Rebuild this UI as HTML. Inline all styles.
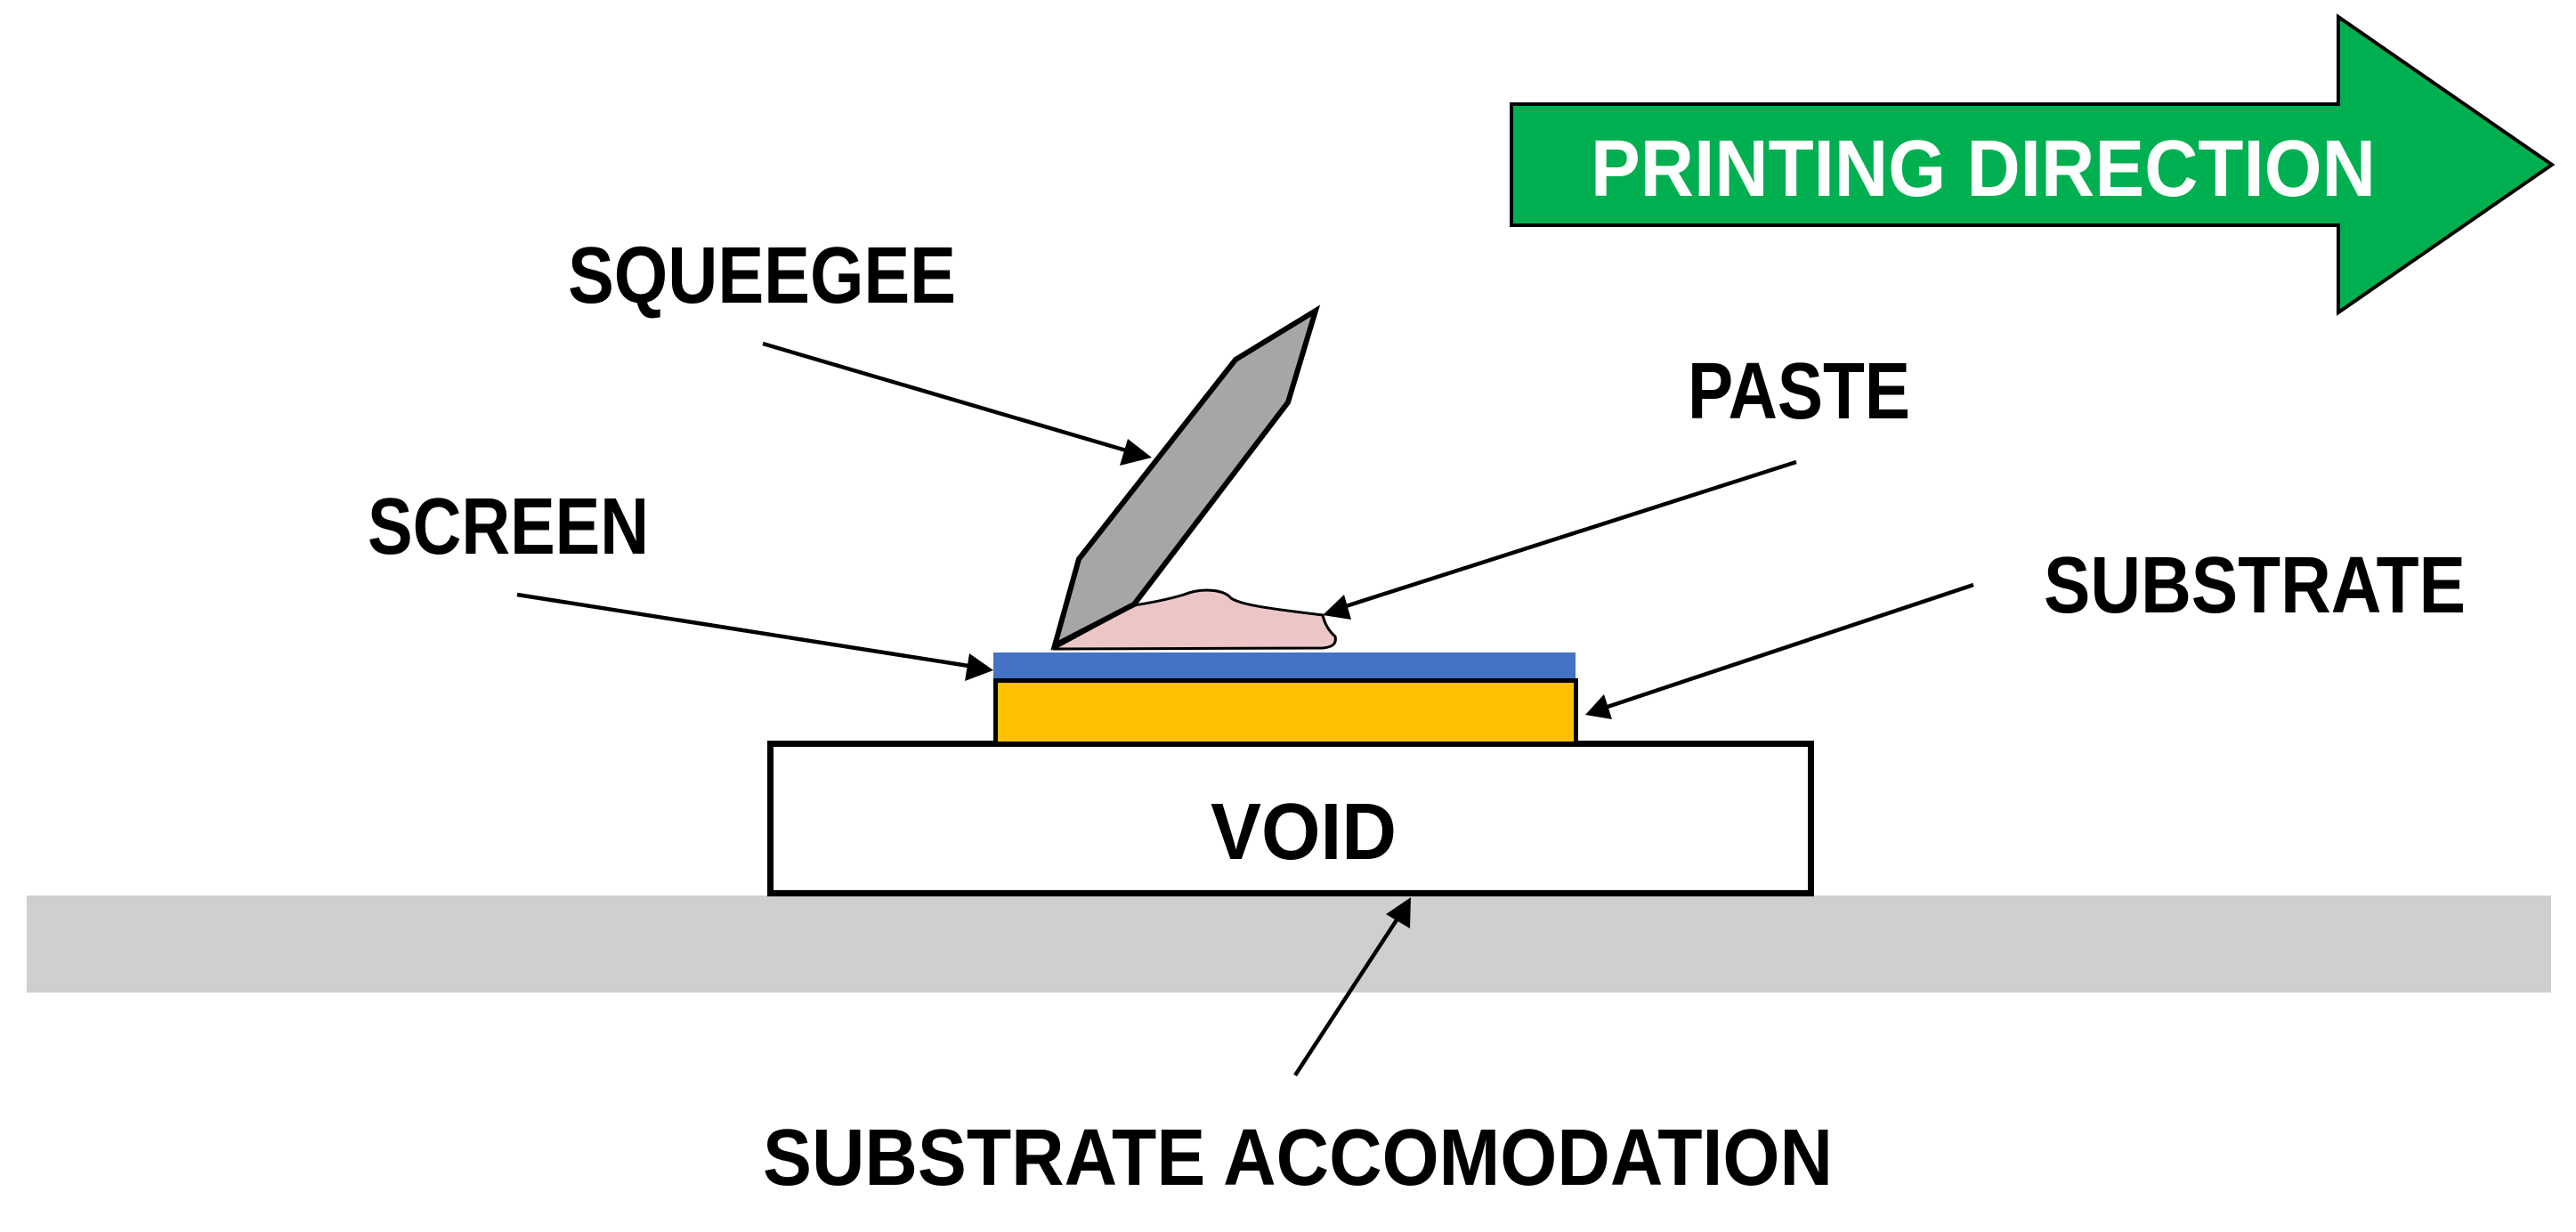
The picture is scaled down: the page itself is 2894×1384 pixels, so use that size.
<!DOCTYPE html>
<html><head><meta charset="utf-8"><style>
html,body{margin:0;padding:0;background:#fff;}
svg{display:block;}
text{font-family:"Liberation Sans",sans-serif;font-weight:bold;}
</style></head><body>
<svg width="2894" height="1384" viewBox="0 0 2894 1384" xmlns="http://www.w3.org/2000/svg">
<defs>
<marker id="ah" markerWidth="10" markerHeight="8" refX="9" refY="4" orient="auto" markerUnits="userSpaceOnUse" viewBox="0 0 10 8">
</marker>
</defs>
<!-- gray base -->
<rect x="30" y="1006" width="2836" height="109" fill="#d0cece"/>
<!-- void box -->
<rect x="865.5" y="835.5" width="1169" height="168" fill="#fff" stroke="#000" stroke-width="7"/>
<!-- yellow substrate -->
<rect x="1118.5" y="764.5" width="652" height="71" fill="#ffc000" stroke="#000" stroke-width="5"/>
<!-- blue screen -->
<rect x="1116" y="733" width="654" height="29" fill="#4472c4"/>
<!-- paste -->
<path d="M1183,729 L1274,680 C1300,676 1320,671 1330,668 C1350,660 1375,662 1383,672 C1395,680 1430,684 1486,691 C1488,700 1492,708 1500,715 C1502,724 1496,727 1486,728 Z" fill="#ecc6c6" stroke="#000" stroke-width="3"/>
<!-- squeegee -->
<polygon points="1478,349 1388,404 1212,628 1185,725 1274,679 1447,452" fill="#a6a6a6" stroke="#000" stroke-width="6" stroke-linejoin="miter"/>
<!-- green arrow -->
<polygon points="1698,117 2627,117 2627,19 2867,185 2627,351 2627,253 1698,253" fill="#00b050" stroke="#000" stroke-width="4"/>
<text x="1787" y="220" font-size="90" fill="#fff" textLength="882" lengthAdjust="spacingAndGlyphs">PRINTING DIRECTION</text>
<!-- labels -->
<text x="638" y="340" font-size="90" fill="#000" textLength="436" lengthAdjust="spacingAndGlyphs">SQUEEGEE</text>
<text x="1896" y="470" font-size="90" fill="#000" textLength="250" lengthAdjust="spacingAndGlyphs">PASTE</text>
<text x="413" y="622" font-size="90" fill="#000" textLength="316" lengthAdjust="spacingAndGlyphs">SCREEN</text>
<text x="2296" y="688" font-size="90" fill="#000" textLength="474" lengthAdjust="spacingAndGlyphs">SUBSTRATE</text>
<text x="1360" y="965" font-size="90" fill="#000" textLength="209" lengthAdjust="spacingAndGlyphs">VOID</text>
<text x="857" y="1331" font-size="90" fill="#000" textLength="1202" lengthAdjust="spacingAndGlyphs">SUBSTRATE ACCOMODATION</text>
<!-- leader lines -->
<g stroke="#000" stroke-width="4.5" fill="none">
<line x1="857" y1="386" x2="1265" y2="506"/>
<line x1="2018" y1="519" x2="1512" y2="681"/>
<line x1="581" y1="668" x2="1088" y2="748"/>
<line x1="2217" y1="657" x2="1806" y2="794"/>
<line x1="1455" y1="1208" x2="1570" y2="1032"/>
</g>
<g fill="#000">
<polygon points="1294,514 1258,523 1267,493"/>
<polygon points="1486,691 1510,668 1518,696"/>
<polygon points="1116,753 1084,765 1089,734"/>
<polygon points="1781,803 1802,780 1811,808"/>
<polygon points="1585,1008 1584,1043 1557,1027"/>
</g>
</svg>
</body></html>
